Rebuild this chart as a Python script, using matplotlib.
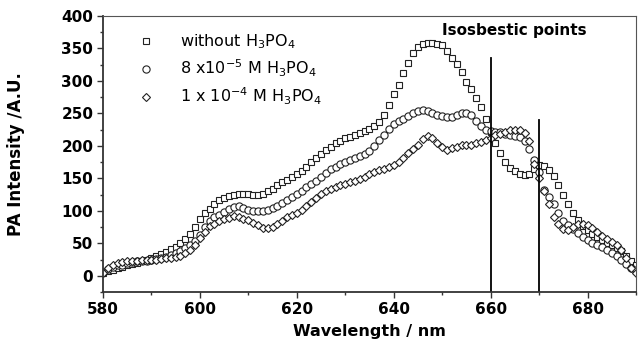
import numpy as np
import matplotlib
matplotlib.use('Agg')
import matplotlib.pyplot as plt
from matplotlib.ticker import MultipleLocator

plt.rcParams['font.family'] = 'DejaVu Sans'
plt.rcParams['mathtext.default'] = 'regular'

# wavelength grid, 1 nm steps
wavelength = np.arange(580, 691)

# PA spectrum, no acid
pa_none = [4, 7, 9, 12, 14, 16, 18, 20, 22, 25,
           27, 30, 33, 37, 41, 45, 50, 56, 64, 75,
           87, 96, 103, 110, 116, 120, 123, 125, 126, 126,
           126, 125, 124, 126, 130, 134, 139, 144, 148, 152,
           157, 162, 168, 175, 181, 188, 194, 199, 204, 208,
           212, 214, 217, 220, 223, 226, 230, 237, 248, 263,
           280, 293, 312, 327, 343, 353, 357, 358, 358, 357,
           355, 346, 336, 326, 313, 299, 287, 274, 260, 242,
           222, 204, 189, 175, 166, 161, 157, 155, 157, 164,
           170, 169, 163, 153, 140, 125, 111, 97, 86, 77,
           70, 64, 59, 55, 51, 47, 43, 38, 31, 23,
           16]

# 8 x 10^-5 M H3PO4
pa_8e5 = [6, 10, 14, 16, 17, 19, 21, 22, 22, 23,
          25, 26, 27, 29, 32, 35, 38, 42, 47, 54,
          63, 75, 85, 90, 94, 98, 103, 106, 107, 105,
          102, 100, 99, 99, 101, 104, 108, 112, 116, 121,
          126, 131, 136, 141, 146, 152, 158, 164, 168, 172,
          175, 178, 181, 184, 188, 192, 200, 209, 217, 226,
          233, 238, 242, 246, 251, 254, 255, 254, 251, 248,
          246, 245, 245, 247, 250, 251, 247, 238, 230, 225,
          223, 222, 221, 219, 217, 215, 213, 208, 195, 178,
          160, 132, 121, 110, 96, 85, 78, 72, 66, 60,
          55, 51, 47, 44, 40, 35, 31, 25, 18, 12,
          9]

# 1 x 10^-4 M H3PO4
pa_1e4 = [5, 12, 16, 19, 21, 22, 23, 23, 24, 24,
          24, 25, 26, 27, 28, 29, 31, 35, 40, 48,
          58, 68, 76, 80, 84, 87, 89, 92, 91, 88,
          86, 82, 78, 74, 73, 75, 80, 85, 90, 94,
          97, 102, 108, 114, 120, 126, 130, 133, 136, 139,
          142, 144, 146, 149, 152, 156, 160, 163, 165, 167,
          170, 175, 182, 189, 195, 202, 210, 215, 212, 205,
          198, 193, 196, 199, 201, 201, 202, 204, 206, 209,
          212, 216, 219, 222, 225, 225, 225, 220, 208, 172,
          150, 130, 110, 90, 80, 72, 70, 75, 80, 79,
          78, 73, 67, 61, 56, 52, 47, 40, 28, 12,
          5]

labels = ['without H$_3$PO$_4$',
          '8 x10$^{-5}$ M H$_3$PO$_4$',
          '1 x 10$^{-4}$ M H$_3$PO$_4$']

# isosbestic wavelengths and the top of each marker line
iso_wl = [660, 670]
iso_top = [335, 240]

fig = plt.figure(figsize=(6.38, 3.41), dpi=100)
ax = fig.add_axes([0.1614, 0.1437, 0.8354, 0.8094])

mk = dict(linestyle='none', markerfacecolor='white', markeredgecolor='#222222',
          markeredgewidth=0.8)
ax.plot(wavelength, pa_none, marker='s', markersize=4.6, label=labels[0], **mk)
ax.plot(wavelength, pa_8e5, marker='o', markersize=5.2, label=labels[1], **mk)
ax.plot(wavelength, pa_1e4, marker='D', markersize=4.2, label=labels[2], **mk)

for wl, top in zip(iso_wl, iso_top):
    ax.plot([wl, wl], [-25, top], color='black', linewidth=1.3)

ax.text(650, 378, 'Isosbestic points', fontsize=11, fontweight='bold',
        ha='left', va='center')

leg = ax.legend(loc='upper left', bbox_to_anchor=(0.066, 0.94), frameon=False,
                fontsize=11.5, handlelength=1.0, handletextpad=1.6,
                labelspacing=0.42, borderpad=0, borderaxespad=0)

ax.set_xlim(580, 690)
ax.set_ylim(-25, 400)
ax.xaxis.set_major_locator(MultipleLocator(20))
ax.xaxis.set_minor_locator(MultipleLocator(10))
ax.yaxis.set_major_locator(MultipleLocator(50))
ax.yaxis.set_minor_locator(MultipleLocator(25))
ax.tick_params(which='both', direction='out', top=False, right=False,
               color='#333333', width=1.0)
ax.tick_params(which='major', length=4, labelsize=11, pad=3)
ax.tick_params(which='minor', length=2.5)
for lab in ax.get_xticklabels() + ax.get_yticklabels():
    lab.set_fontweight('bold')

for side in ['left', 'bottom']:
    ax.spines[side].set_linewidth(1.3)
    ax.spines[side].set_color('#333333')
for side in ['top', 'right']:
    ax.spines[side].set_linewidth(0.8)
    ax.spines[side].set_color('#555555')

ax.set_xlabel('Wavelength / nm', fontsize=11.5, fontweight='bold', labelpad=5)
ax.set_ylabel('PA Intensity /A.U.', fontsize=12, fontweight='bold', labelpad=26)

fig.savefig('out.png', dpi=100)
